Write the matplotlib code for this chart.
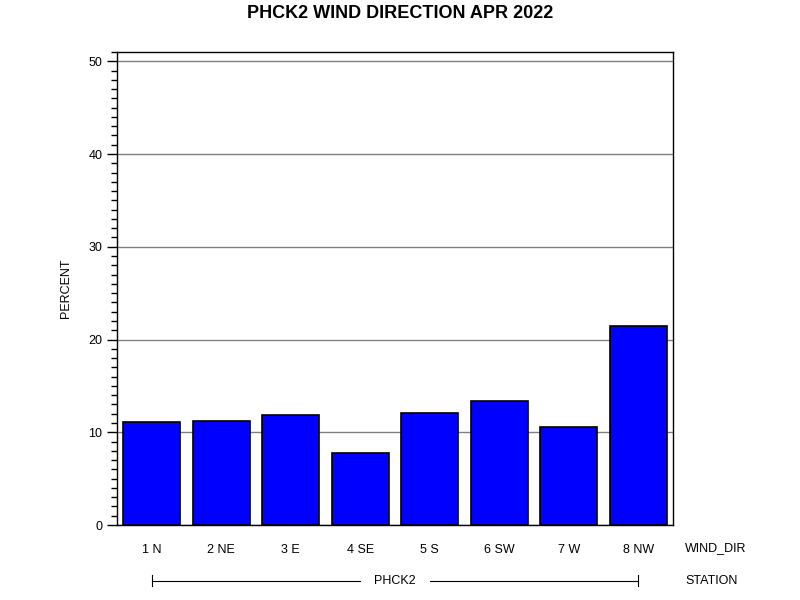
import numpy as np
import matplotlib
matplotlib.use("Agg")
import matplotlib.pyplot as plt
from matplotlib.ticker import MultipleLocator

plt.rcParams['font.family'] = ['Liberation Sans', 'DejaVu Sans']

# datos
wind_dir = ['1 N', '2 NE', '3 E', '4 SE', '5 S', '6 SW', '7 W', '8 NW']
percent = [11.1, 11.2, 11.9, 7.8, 12.1, 13.4, 10.6, 21.5]
station = 'PHCK2'

fig = plt.figure(figsize=(8, 6), dpi=100)
ax = fig.add_axes([0.14625, 0.125, 0.695, 0.78833])

x = np.arange(len(wind_dir))
ax.bar(x, percent, width=0.82, color='#0000ff', edgecolor='black', linewidth=1.2, zorder=3)

ax.set_xlim(-0.5, len(wind_dir) - 0.5)
ax.set_ylim(0, 51)
ax.yaxis.set_major_locator(MultipleLocator(10))
ax.yaxis.set_minor_locator(MultipleLocator(1))
ax.grid(axis='y', color='#808080', linewidth=1, zorder=1)
ax.tick_params(axis='y', which='major', length=7, width=1, labelsize=9, direction='out')
ax.tick_params(axis='y', which='minor', length=4, width=1, direction='out')
ax.set_xticks(x)
ax.set_xticklabels(wind_dir, fontsize=9)
ax.tick_params(axis='x', length=0, pad=14)
for s in ax.spines.values():
    s.set_linewidth(1)
ax.set_ylabel('PERCENT', fontsize=9, labelpad=12)

fig.suptitle('PHCK2 WIND DIRECTION APR 2022', fontsize=13, fontweight='bold', y=0.992)

# etiquetas de filas
fig.text(685 / 800, 1 - 548 / 600, 'WIND_DIR', fontsize=9, va='center', ha='left')
fig.text(685 / 800, 1 - 581 / 600, 'STATION', fontsize=9, va='center', ha='left')

# linea de la estacion
trans = ax.get_xaxis_transform()
yl = -0.118
ax.plot([x[0], 3.0], [yl, yl], color='black', lw=0.8, transform=trans, clip_on=False)
ax.plot([4.0, x[-1]], [yl, yl], color='black', lw=0.8, transform=trans, clip_on=False)
for xe in (x[0], x[-1]):
    ax.plot([xe, xe], [yl - 0.012, yl + 0.012], color='black', lw=0.8, transform=trans, clip_on=False)
ax.text((x[0] + x[-1]) / 2, yl, station, fontsize=9, ha='center', va='center', transform=trans)

fig.savefig('out.png', dpi=100)
